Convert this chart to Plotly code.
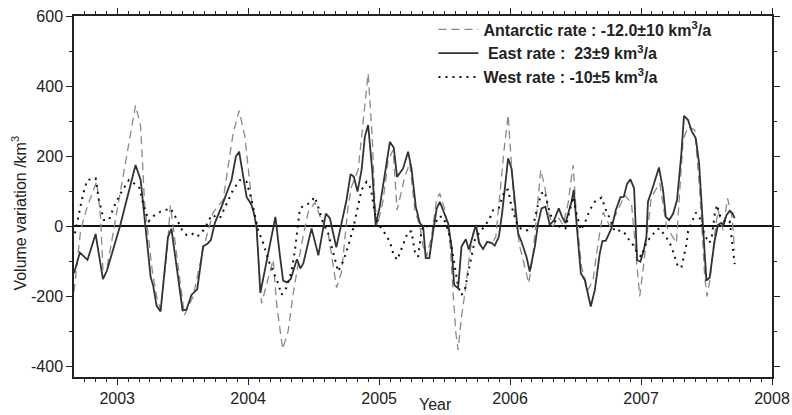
import plotly.graph_objects as go

# ---------------- data ----------------
east_year = [2002.670, 2002.715, 2002.773, 2002.835, 2002.891, 2002.921, 2003.021, 2003.140, 2003.179, 2003.217,
             2003.255, 2003.275, 2003.301, 2003.331, 2003.387, 2003.414, 2003.499, 2003.528, 2003.568, 2003.611,
             2003.656, 2003.689, 2003.715, 2003.746, 2003.797, 2003.873, 2003.906, 2003.931, 2003.962, 2003.988,
             2004.026, 2004.044, 2004.064, 2004.093, 2004.153, 2004.208, 2004.242, 2004.267, 2004.295, 2004.326,
             2004.372, 2004.399, 2004.421, 2004.484, 2004.536, 2004.593, 2004.624, 2004.673, 2004.713, 2004.751,
             2004.782, 2004.807, 2004.835, 2004.866, 2004.891, 2004.916, 2004.947, 2004.973, 2005.005, 2005.038,
             2005.082, 2005.112, 2005.137, 2005.183, 2005.221, 2005.247, 2005.280, 2005.311, 2005.336, 2005.356,
             2005.383, 2005.418, 2005.440, 2005.463, 2005.496, 2005.527, 2005.553, 2005.573, 2005.603, 2005.629,
             2005.662, 2005.685, 2005.713, 2005.738, 2005.763, 2005.794, 2005.824, 2005.858, 2005.883, 2005.914,
             2005.939, 2005.965, 2005.985, 2006.011, 2006.036, 2006.061, 2006.087, 2006.125, 2006.150, 2006.189,
             2006.214, 2006.240, 2006.270, 2006.303, 2006.336, 2006.372, 2006.397, 2006.423, 2006.448, 2006.469,
             2006.486, 2006.502, 2006.519, 2006.540, 2006.570, 2006.616, 2006.647, 2006.685, 2006.705, 2006.731,
             2006.774, 2006.807, 2006.843, 2006.868, 2006.893, 2006.919, 2006.947, 2006.970, 2006.995, 2007.021,
             2007.041, 2007.053, 2007.087, 2007.112, 2007.137, 2007.168, 2007.189, 2007.214, 2007.244, 2007.275,
             2007.308, 2007.328, 2007.359, 2007.385, 2007.418, 2007.443, 2007.469, 2007.499, 2007.524, 2007.563,
             2007.588, 2007.614, 2007.631, 2007.652, 2007.677, 2007.698, 2007.715]
east_vol = [-134, -75, -96, -22, -151, -127, 0, 175, 132, 0,
            -144, -170, -227, -243, -32, -7, -240, -238, -195, -180,
            -57, -50, -39, 10, 56, 132, 199, 213, 141, 84,
            61, 37, 0, -190, -77, 27, -82, -155, -160, -150,
            -94, -120, -106, -6, -83, 36, 23, -60, 9, 75,
            149, 141, 99, 161, 256, 289, 161, 4, 56, 137,
            241, 224, 141, 165, 213, 165, 56, 9, 0, -91,
            -91, 0, 51, 70, 37, 9, -58, -167, -177, -58,
            -37, -66, -30, 4, -48, -65, -44, -47, -55, -30,
            37, 123, 194, 165, 66, -20, -44, -87, -129, -58,
            9, 51, 56, 4, 18, 51, 27, 9, 42, 70,
            104, 37, -48, -134, -153, -229, -182, -77, -42, -41,
            -6, 46, 83, 84, 121, 134, 108, -96, -101, -68,
            -30, 70, 108, 140, 168, 104, 27, 18, 35, 75,
            208, 315, 303, 273, 251, 180, 9, -155, -146, -39,
            4, 10, 4, 32, 44, 37, 23]

ant_year = [2002.670, 2002.721, 2002.771, 2002.843, 2002.873, 2002.891, 2002.924, 2003.140, 2003.179, 2003.209,
            2003.267, 2003.301, 2003.331, 2003.382, 2003.406, 2003.513, 2003.580, 2003.656, 2003.733, 2003.809,
            2003.885, 2003.931, 2003.975, 2004.026, 2004.064, 2004.102, 2004.191, 2004.217, 2004.263, 2004.305,
            2004.344, 2004.408, 2004.458, 2004.509, 2004.547, 2004.611, 2004.675, 2004.713, 2004.763, 2004.789,
            2004.840, 2004.885, 2004.916, 2004.947, 2004.967, 2004.988, 2005.031, 2005.069, 2005.107, 2005.137,
            2005.196, 2005.234, 2005.273, 2005.311, 2005.336, 2005.362, 2005.400, 2005.438, 2005.463, 2005.502,
            2005.540, 2005.565, 2005.586, 2005.603, 2005.629, 2005.662, 2005.692, 2005.718, 2005.744, 2005.769,
            2005.799, 2005.830, 2005.860, 2005.891, 2005.921, 2005.954, 2005.985, 2006.011, 2006.036, 2006.074,
            2006.112, 2006.143, 2006.176, 2006.209, 2006.234, 2006.265, 2006.295, 2006.328, 2006.366, 2006.405,
            2006.443, 2006.481, 2006.507, 2006.545, 2006.595, 2006.634, 2006.672, 2006.710, 2006.761, 2006.812,
            2006.876, 2006.927, 2006.965, 2006.990, 2007.015, 2007.046, 2007.079, 2007.143, 2007.194, 2007.270,
            2007.295, 2007.321, 2007.359, 2007.410, 2007.448, 2007.486, 2007.504, 2007.530, 2007.563, 2007.588,
            2007.626, 2007.660, 2007.695, 2007.715]
ant_vol = [-187, -10, 56, 128, 27, -125, -115, 345, 284, 66,
           -125, -200, -238, -68, 60, -253, -200, -65, 40, 75,
           265, 330, 256, 75, -11, -220, -96, -220, -350, -300,
           -191, -50, 40, 68, 30, -20, -175, -130, 56, 113,
           161, 313, 436, 256, 66, 4, 75, 189, 218, 46,
           141, 180, 46, 0, -58, -87, -30, 75, 94, 46,
           -39, -191, -305, -353, -258, -172, -77, -20, 0, -50,
           -60, -45, -50, -30, 94, 218, 318, 180, 37, -58,
           -115, -163, -77, 56, 161, 113, 37, 0, 27, 4,
           66, 175, 27, -115, -182, -153, -48, 40, 0, 37,
           89, 66, -106, -200, -125, -30, 84, 123, 0, -48,
           104, 246, 284, 275, 104, -144, -200, -144, -20, 46,
           -11, 80, 27, -68]

west_year = [2002.677, 2002.715, 2002.738, 2002.771, 2002.835, 2002.860, 2002.898, 2002.937, 2002.975, 2003.026,
             2003.089, 2003.166, 2003.204, 2003.242, 2003.280, 2003.331, 2003.408, 2003.458, 2003.496, 2003.530,
             2003.568, 2003.606, 2003.644, 2003.682, 2003.721, 2003.784, 2003.835, 2003.885, 2003.937, 2003.988,
             2004.026, 2004.076, 2004.115, 2004.153, 2004.191, 2004.229, 2004.255, 2004.293, 2004.331, 2004.356,
             2004.395, 2004.433, 2004.471, 2004.509, 2004.534, 2004.573, 2004.611, 2004.662, 2004.687, 2004.725,
             2004.763, 2004.802, 2004.827, 2004.866, 2004.904, 2004.937, 2004.967, 2005.005, 2005.044, 2005.082,
             2005.107, 2005.137, 2005.158, 2005.196, 2005.221, 2005.247, 2005.273, 2005.298, 2005.324, 2005.349,
             2005.387, 2005.425, 2005.450, 2005.489, 2005.527, 2005.553, 2005.578, 2005.603, 2005.629, 2005.654,
             2005.679, 2005.705, 2005.731, 2005.769, 2005.807, 2005.845, 2005.870, 2005.914, 2005.960, 2005.985,
             2006.011, 2006.036, 2006.061, 2006.099, 2006.137, 2006.176, 2006.209, 2006.240, 2006.265, 2006.290,
             2006.316, 2006.354, 2006.392, 2006.423, 2006.456, 2006.481, 2006.507, 2006.540, 2006.570, 2006.608,
             2006.647, 2006.698, 2006.736, 2006.761, 2006.799, 2006.850, 2006.889, 2006.914, 2006.947, 2006.970,
             2007.003, 2007.041, 2007.079, 2007.112, 2007.143, 2007.176, 2007.206, 2007.232, 2007.250, 2007.270,
             2007.282, 2007.308, 2007.321, 2007.346, 2007.359, 2007.385, 2007.418, 2007.448, 2007.473, 2007.494,
             2007.519, 2007.537, 2007.563, 2007.580, 2007.601, 2007.626, 2007.652, 2007.677, 2007.690, 2007.702,
             2007.715]
west_vol = [-20, 50, 90, 132, 137, 75, 18, 18, 56, 94,
            132, 113, 56, 15, 30, 42, 51, 18, -11, -25,
            -20, -30, -20, 4, 32, 23, 66, 104, 132, 127,
            75, -11, -48, -96, -129, -163, -195, -175, -129, -72,
            51, 61, 66, 84, 56, 9, -20, -91, -129, -100,
            -58, -6, 37, 104, 127, 108, 37, 0, -20, -44,
            -77, -96, -77, -39, -15, -15, -72, -87, -11, 4,
            -6, 4, 27, 27, -11, -58, -115, -172, -196, -182,
            -134, -87, -39, -15, 0, 23, 46, 52, 104, 104,
            56, 27, 0, -11, -11, 0, 56, 94, 99, 56,
            27, 9, -6, -6, 46, 84, 37, -11, 9, 46,
            70, 82, 42, 23, -15, -11, -25, -44, -56, -77,
            -87, -44, -30, -11, -6, -25, -39, -58, -77, -98,
            -115, -118, -96, -53, -15, 9, 39, 23, -11, -30,
            -48, -39, 35, 61, 32, 18, 9, 13, -30, -77,
            -108]

ant_label = "<b>Antarctic rate : -12.0±10 km<sup>3</sup>/a</b>"
east_label = "<b>\u00a0East rate :\u00a0\u00a023±9 km<sup>3</sup>/a</b>"
west_label = "<b>West rate : -10±5 km<sup>3</sup>/a</b>"

x_tickvals = [2003, 2004, 2005, 2006, 2007, 2008]
x_ticktext = ["2003", "2004", "2005", "2006", "2007", "2008"]
y_tickvals = [-400, -200, 0, 200, 400, 600]
y_ticktext = ["-400", "-200", "0", "200", "400", "600"]

FONT = "Liberation Sans, Arial, sans-serif"

fig = go.Figure()
fig.add_trace(go.Scatter(x=ant_year, y=ant_vol, mode="lines", name=ant_label,
                         line=dict(color="#8a8a8a", width=1.3, dash="8px,5px")))
fig.add_trace(go.Scatter(x=east_year, y=east_vol, mode="lines", name=east_label,
                         line=dict(color="#333333", width=1.8)))
fig.add_trace(go.Scatter(x=west_year, y=west_vol, mode="lines", name=west_label,
                         line=dict(color="#111111", width=2, dash="2px,5px")))

axis_common = dict(showline=True, linecolor="#222", linewidth=1.5, mirror="allticks",
                   ticks="outside", ticklen=6, tickwidth=1, tickcolor="#222",
                   showgrid=False, automargin=False,
                   tickfont=dict(family=FONT, size=16, color="#222"))

fig.update_xaxes(range=[2002.67, 2008.0], tickvals=x_tickvals, ticktext=x_ticktext,
                 minor=dict(dtick=1 / 12, tick0=2003, ticks="outside", ticklen=3, tickcolor="#222",
                            showgrid=False),
                 zeroline=False, **axis_common)
fig.update_yaxes(range=[-430, 600], tickvals=y_tickvals, ticktext=y_ticktext,
                 minor=dict(dtick=100, tick0=0, ticks="outside", ticklen=3, tickcolor="#222", showgrid=False),
                 zeroline=True, zerolinecolor="#111", zerolinewidth=1.6,
                 **axis_common)

fig.add_annotation(text="Year", xref="paper", yref="paper", x=0.518, y=-0.104,
                   xanchor="center", yanchor="bottom", showarrow=False,
                   font=dict(family=FONT, size=16, color="#222"))
fig.add_annotation(text="Volume variation /km<sup>3</sup>", xref="paper", yref="paper",
                   x=-0.079, y=0.455, xanchor="center", yanchor="middle", textangle=-90,
                   showarrow=False, font=dict(family=FONT, size=16, color="#222"))

fig.update_layout(
    width=792, height=415,
    margin=dict(l=74, r=20, t=16, b=38, autoexpand=False),
    paper_bgcolor="white", plot_bgcolor="white",
    showlegend=True,
    legend=dict(x=0.515, y=1.01, xanchor="left", yanchor="top", bgcolor="rgba(0,0,0,0)",
                font=dict(family=FONT, size=16, color="#222"), tracegroupgap=0,
                itemwidth=40),
)

fig.write_html("out.html", config={"displayModeBar": False},
               post_script="document.body.style.margin='0';document.body.style.overflow='hidden';")
